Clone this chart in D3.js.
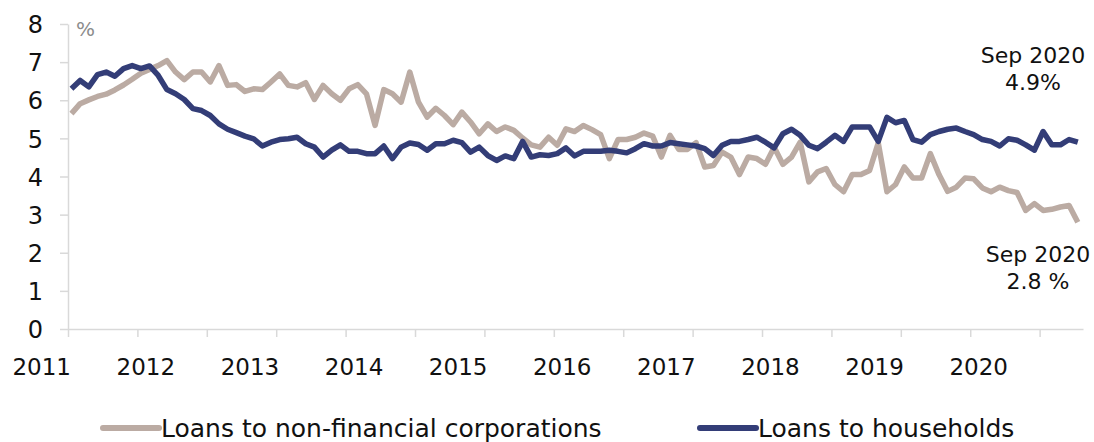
<!DOCTYPE html>
<html>
<head>
<meta charset="utf-8">
<script src="https://cdn.jsdelivr.net/npm/d3@7"></script>
<style>
  body { margin: 0; background: #fff; }
  svg text { font-family: "DejaVu Sans", sans-serif; fill: #111; }
</style>
</head>
<body>
<div id="chart"></div>
<script>
// Interest rates on new loans, monthly Jan 2011 - Sep 2020 (%)

const width = 1094, height = 442;

const years = ["2011", "2012", "2013", "2014", "2015", "2016", "2017", "2018", "2019", "2020"];

const corporations = [
  5.65, 5.91, 6.01, 6.10, 6.16, 6.27, 6.40, 6.55, 6.71, 6.81, 6.91, 7.04,
  6.74, 6.54, 6.74, 6.74, 6.48, 6.91, 6.39, 6.41, 6.23, 6.30, 6.28, 6.48,
  6.69, 6.39, 6.35, 6.46, 6.02, 6.39, 6.17, 6.00, 6.30, 6.41, 6.17, 5.34,
  6.28, 6.17, 5.95, 6.74, 5.95, 5.56, 5.79, 5.60, 5.36, 5.69, 5.43, 5.12,
  5.38, 5.18, 5.30, 5.21, 5.01, 4.83, 4.77, 5.03, 4.82, 5.25, 5.18, 5.34,
  5.23, 5.10, 4.47, 4.97, 4.97, 5.03, 5.14, 5.06, 4.51, 5.08, 4.71, 4.71,
  4.89, 4.25, 4.29, 4.64, 4.51, 4.05, 4.51, 4.47, 4.32, 4.77, 4.32, 4.51,
  4.90, 3.86, 4.12, 4.21, 3.79, 3.60, 4.05, 4.05, 4.16, 4.88, 3.60, 3.79,
  4.25, 3.96, 3.96, 4.60, 4.05, 3.61, 3.72, 3.96, 3.94, 3.70, 3.60, 3.72,
  3.63, 3.58, 3.11, 3.29, 3.11, 3.14, 3.20, 3.24, 2.80
];

const households = [
  6.30, 6.52, 6.35, 6.67, 6.74, 6.63, 6.83, 6.91, 6.83, 6.90, 6.65, 6.28,
  6.17, 6.02, 5.78, 5.73, 5.60, 5.38, 5.24, 5.15, 5.06, 4.99, 4.80, 4.90,
  4.97, 4.99, 5.03, 4.86, 4.77, 4.51, 4.69, 4.83, 4.66, 4.66, 4.60, 4.60,
  4.80, 4.47, 4.77, 4.88, 4.84, 4.69, 4.86, 4.86, 4.95, 4.89, 4.64, 4.77,
  4.55, 4.42, 4.54, 4.47, 4.92, 4.51, 4.57, 4.55, 4.60, 4.75, 4.54, 4.66,
  4.66, 4.66, 4.69, 4.66, 4.62, 4.73, 4.86, 4.80, 4.80, 4.89, 4.86, 4.83,
  4.80, 4.73, 4.55, 4.82, 4.92, 4.92, 4.97, 5.03, 4.90, 4.75, 5.12, 5.24,
  5.08, 4.82, 4.73, 4.90, 5.08, 4.92, 5.30, 5.30, 5.30, 4.92, 5.55, 5.41,
  5.47, 4.97, 4.90, 5.10, 5.18, 5.24, 5.27, 5.18, 5.10, 4.97, 4.92, 4.80,
  4.99, 4.95, 4.83, 4.69, 5.18, 4.83, 4.83, 4.97, 4.90
];

const seriesNames = ["Loans to non-financial corporations", "Loans to households"];
const seriesColors = ["#bbaba3", "#333d77"];
const yTicks = [0, 1, 2, 3, 4, 5, 6, 7, 8];

const svg = d3.select("#chart")
  .append("svg")
  .attr("width", width)
  .attr("height", height);

// month index scale, tick marks every 8 months like the original
const x = d3.scaleLinear().domain([-0.4, 116.6]).range([68, 1083]);
const y = d3.scaleLinear().domain([0, 8]).range([329, 24]);

const axisColor = "#d9d9d9";

const xAxis = svg.append("g")
  .attr("transform", `translate(0,${y(0)})`)
  .call(d3.axisBottom(x)
    .tickValues(d3.range(-0.4, 117, 8))
    .tickSize(8)
    .tickSizeOuter(0)
    .tickFormat(""));
xAxis.selectAll("path, line").attr("stroke", axisColor).attr("stroke-width", 1.5);

const yAxis = svg.append("g")
  .attr("transform", `translate(${x(-0.4)},0)`)
  .call(d3.axisLeft(y)
    .tickValues(yTicks)
    .tickSize(8)
    .tickSizeOuter(0)
    .tickPadding(17));
yAxis.selectAll("path, line").attr("stroke", axisColor).attr("stroke-width", 1.5);
yAxis.selectAll("text")
  .attr("font-size", 24)
  .attr("dy", "0.36em")
  .attr("fill", "#111")
  .style("font-family", "DejaVu Sans, sans-serif");

// year labels sit just left of each January
svg.append("g")
  .selectAll("text")
  .data(years)
  .join("text")
  .attr("x", (d, i) => x(i * 12 - 0.4) + 3)
  .attr("y", 375)
  .attr("text-anchor", "end")
  .attr("font-size", 23)
  .text(d => d);

svg.append("text")
  .attr("x", 76)
  .attr("y", 36)
  .attr("font-size", 20)
  .style("fill", "#8c8c8c")
  .text("%");

const line = d3.line()
  .x((d, i) => x(i))
  .y(d => y(d));

[corporations, households].forEach((s, k) => {
  svg.append("path")
    .datum(s)
    .attr("fill", "none")
    .attr("stroke", seriesColors[k])
    .attr("stroke-width", 5.5)
    .attr("stroke-linejoin", "round")
    .attr("d", line);
});

// end-of-series notes
const notes = [
  { lines: ["Sep 2020", "4.9%"], x: 1033, y: 63 },
  { lines: ["Sep 2020", "2.8 %"], x: 1038, y: 262 }
];
notes.forEach(n => {
  svg.append("g")
    .selectAll("text")
    .data(n.lines)
    .join("text")
    .attr("x", n.x)
    .attr("y", (d, i) => n.y + i * 27)
    .attr("text-anchor", "middle")
    .attr("font-size", 22)
    .text(d => d);
});

// legend
const legendX = [103, 700];
const legend = svg.append("g")
  .selectAll("g")
  .data(seriesNames)
  .join("g")
  .attr("transform", (d, i) => `translate(${legendX[i]},428)`);
legend.append("line")
  .attr("x1", 0).attr("x2", 56)
  .attr("stroke", (d, i) => seriesColors[i])
  .attr("stroke-width", 6)
  .attr("stroke-linecap", "round");
legend.append("text")
  .attr("x", 58)
  .attr("y", 9)
  .attr("font-size", 25)
  .text(d => d);
</script>
</body>
</html>
